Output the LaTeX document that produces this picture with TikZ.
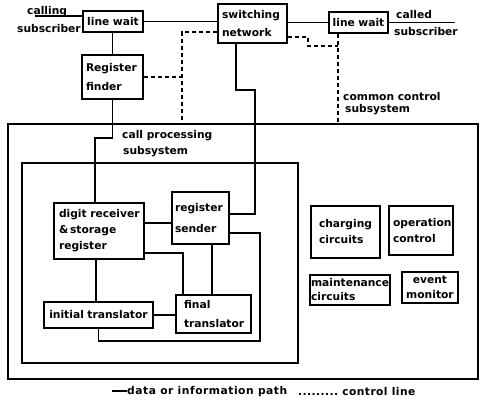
\documentclass[tikz,border=0pt]{standalone}
\usepackage{fontspec}
\setmainfont{DejaVu Sans}
\begin{document}
\begin{tikzpicture}[x=1pt,y=-1pt,
  ln/.style={line width=1.3pt},
  ctl/.style={line width=1.4pt, dash pattern=on 4pt off 3pt},
  thickln/.style={line width=2.8pt},
  bx/.style={draw, line width=1.3pt, inner ysep=0pt, align=left},
  fs/.style={font=\fontsize{10.7}{#1}\selectfont\bfseries},
  fs/.default=13,
  lbl/.style={inner sep=0pt, anchor=west, fs}]
\useasboundingbox (0,0) rectangle (488,404);

% outer and inner subsystem frames
\node[draw, line width=1.3pt, minimum width=470pt, minimum height=255pt, inner sep=0pt] (ccs) at (243,251.5) {};
\node[draw, line width=1.3pt, minimum width=276pt, minimum height=200pt, inner sep=0pt] (cps) at (160,263) {};

% boxes
\node[bx, fs, align=center, minimum width=60pt, minimum height=21pt, inner xsep=2pt, text width=56pt] (lw1) at (113,21.5) {\mbox{line wait}};
\node[bx, fs=18, minimum width=69pt, minimum height=39pt, inner xsep=4pt, text width=61pt] (sw) at (252.5,23.5) {\mbox{switching}\\network};
\node[bx, fs, align=center, minimum width=59pt, minimum height=21pt, inner xsep=2pt, text width=55pt] (lw2) at (358.5,22.5) {\mbox{line wait}};
\node[bx, fs=19, minimum width=61pt, minimum height=44pt, inner xsep=4pt, text width=53pt] (rf) at (112.5,77) {Register\\finder};
\node[bx, fs=16, minimum width=90pt, minimum height=56pt, inner xsep=5pt, text width=80pt] (dr) at (99,231) {\mbox{digit receiver}\\\&\,storage\\register};
\node[bx, fs=21, minimum width=57pt, minimum height=52pt, inner xsep=3pt, text width=51pt] (rs) at (200.5,218) {register\\sender};
\node[bx, fs, align=center, line width=2pt, minimum width=109pt, minimum height=26pt, inner xsep=1pt, text width=107pt] (it) at (98.5,315) {\mbox{initial translator}};
\node[bx, fs=19, minimum width=75pt, minimum height=38pt, inner xsep=8pt, text width=59pt] (ft) at (213.5,314) {final\\\mbox{translator}};
\node[bx, fs=16, minimum width=69pt, minimum height=52pt, inner xsep=8pt, text width=53pt] (cc) at (345.5,232) {charging\\circuits};
\node[bx, fs=16, minimum width=64pt, minimum height=49pt, inner xsep=4pt, text width=56pt] (oc) at (421,230.5) {\mbox{operation}\\control};
\node[bx, fs=14, minimum width=80pt, minimum height=30pt, inner xsep=1pt, text width=78pt] (mc) at (350,290) {\mbox{maintenance}\\circuits};
\node[bx, fs=15, align=center, minimum width=56pt, minimum height=31pt, inner xsep=2pt, text width=52pt] (em) at (430,287.5) {event\\monitor};

% free labels
\node[lbl] (tcalling) at (27,12) {calling};
\node[lbl] (tsub1) at (17,29) {subscriber};
\node[lbl] (tcalled) at (396,15) {called};
\node[lbl] (tsub2) at (394,32) {subscriber};
\node[lbl] (tcc1) at (343,97) {common control};
\node[lbl] (tcc2) at (345,110) {subsystem};
\node[lbl] (tcp1) at (122,136) {call processing};
\node[lbl] (tcp2) at (123,152) {subsystem};
\node[lbl, font=\fontsize{10.7}{13}\selectfont\bfseries\addfontfeature{LetterSpace=5}] (leg1) at (112,392) {\rule[0.3em]{15pt}{1.5pt}data or information path};
\node[lbl] (leg2) at (298,392) {\addfontfeature{LetterSpace=4}.........\ control line};

% helper coordinates
\coordinate (c1) at (35,16);
\coordinate (c2) at (455,22.5);
\coordinate (p1) at (95,138);
\coordinate (d1) at (182,32);
\coordinate (p2) at (236,90);
\coordinate (p3) at (255,214);
\coordinate (d2) at (308,37);
\coordinate (d3) at (338,46);
\coordinate (p4) at (183,253);
\coordinate (p5) at (212,0);
\coordinate (p6) at (96,0);
\coordinate (p7) at (260,341);
\coordinate (p8) at (0,233);
\coordinate (p9) at (0,223);

% data paths
\draw[ln] (c1) -- (c1 -| lw1.west);
\draw[ln] (lw1.east) -- (lw1.east -| sw.west);
\draw[ln] (lw2.west) -- (lw2.west -| sw.east);
\draw[ln] (lw2.east) -- (c2);
\draw[ln] (rf.north) -- (rf.north |- lw1.south);
\draw[ln] (rf.south) |- (p1) -- (p1 |- dr.north);
\draw[ln] (sw.south -| p2) -- (p2) -| (p3) -- (p3 -| rs.east);
\draw[thickln] (dr.east |- p9) -- (rs.west |- p9);
\draw[ln] (dr.east |- p4) -| (p4 |- ft.north);
\draw[ln] (rs.south -| p5) -- (p5 |- ft.north);
\draw[ln] (dr.south -| p6) -- (p6 |- it.north);
\draw[ln] (it.east) -- (it.east -| ft.west);
\draw[ln] (it.south) |- (p7) |- (rs.east |- p8);

% control lines
\draw[ctl] (sw.west |- d1) -- (d1) -- (d1 |- ccs.north);
\draw[ctl] (rf.east) -- (rf.east -| d1);
\draw[ctl] (sw.east |- d2) -- (d2) |- (d3);
\draw[ctl] (lw2.south -| d3) -- (d3 |- ccs.north);
\end{tikzpicture}
\end{document}
